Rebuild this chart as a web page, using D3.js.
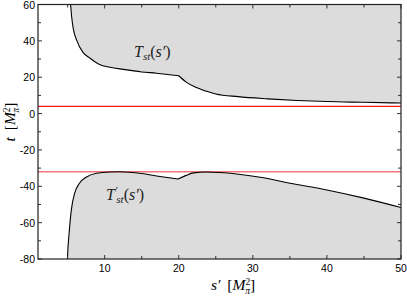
<!DOCTYPE html>
<html>
<head>
<meta charset="utf-8">
<script src="https://cdn.jsdelivr.net/npm/d3@7"></script>
<style>
  body { margin: 0; background: #fff; }
  svg { display: block; }
</style>
</head>
<body>
<svg id="chart" width="407" height="297"></svg>
<script>
// upper boundary T_st(s')
const upperS = [5.4, 5.55, 5.75, 6.2, 7.1, 8, 9.3, 10.7, 12.5, 15, 17, 20, 21, 22.3, 25, 28, 32, 36, 40, 45, 50];
const upperT = [60, 53, 47, 40.5, 33.5, 30.5, 27, 25.5, 24.3, 22.9, 22.2, 20.8, 17.3, 14.5, 10.8, 9.3, 8.1, 7.2, 6.6, 6.2, 5.8];
// lower boundary T'_st(s')
const lowerS = [4.97, 5.03, 5.2, 5.5, 5.95, 6.6, 7.5, 8.9, 10.7, 12, 13.4, 15, 17, 19.9, 21, 22, 23.7, 25.5, 27.8, 31, 35, 40, 45, 50];
const lowerT = [-80, -75, -65.8, -53, -43.8, -38.3, -35, -32.8, -32.1, -32.0, -32.3, -33, -34.3, -36, -34, -32.6, -32.1, -32.4, -33.2, -35, -38.3, -42, -46.5, -51.7];
const kinkS = [20, 19.9];
const redLines = [4, -32];
const xTicks = [10, 20, 30, 40, 50];
const yTicks = [60, 40, 20, 0, -20, -40, -60, -80];

const SVG = d3.select("#chart");
const M = { top: 4.5, right: 6, bottom: 38, left: 38 };
const W = 407 - M.left - M.right;
const H = 297 - M.top - M.bottom;

const x = d3.scaleLinear().domain([1, 50]).range([0, W]);
const y = d3.scaleLinear().domain([-80, 60]).range([H, 0]);

const g = SVG.append("g").attr("transform", `translate(${M.left},${M.top})`);

g.append("defs").append("clipPath").attr("id", "clip")
  .append("rect").attr("width", W).attr("height", H);

const plot = g.append("g").attr("clip-path", "url(#clip)");

const line = d3.line().x(d => x(d[0])).y(d => y(d[1])).curve(d3.curveMonotoneX);

// split at the kink so it stays sharp
function curvePath(S, T, kink) {
  const pts = S.map((s, i) => [s, T[i]]);
  const k = pts.findIndex(p => p[0] === kink);
  const a = line(pts.slice(0, k + 1));
  const b = line(pts.slice(k)).replace(/^M/, "L");
  return a + b;
}

const upPath = curvePath(upperS, upperT, kinkS[0]);
const loPath = curvePath(lowerS, lowerT, kinkS[1]);

plot.append("path")
  .attr("d", upPath + `L${x(50)},${y(60)}Z`)
  .attr("fill", "#dcdcdc");
plot.append("path")
  .attr("d", loPath + `L${x(50)},${y(-80)}Z`)
  .attr("fill", "#dcdcdc");

plot.selectAll(".red").data(redLines).join("line")
  .attr("x1", 0).attr("x2", W)
  .attr("y1", d => y(d)).attr("y2", d => y(d))
  .attr("stroke", (d, i) => i ? "#f07878" : "#ff1a1a")
  .attr("stroke-width", (d, i) => i ? 1.6 : 1.2);

plot.append("path").attr("d", upPath).attr("fill", "none").attr("stroke", "#000").attr("stroke-width", 1.1);
plot.append("path").attr("d", loPath).attr("fill", "none").attr("stroke", "#000").attr("stroke-width", 1.1);

// axes, ticks inside on all four sides
const tickFont = "'Liberation Sans', Arial, sans-serif";
const minorX = d3.range(5, 51, 5);
const minorY = d3.range(-80, 61, 10);

const ax = g.append("g").attr("stroke", "#333").attr("stroke-width", 1);
minorX.forEach(v => {
  const len = v % 10 === 0 ? 4 : 3;
  ax.append("line").attr("x1", x(v)).attr("x2", x(v)).attr("y1", H).attr("y2", H - len);
  ax.append("line").attr("x1", x(v)).attr("x2", x(v)).attr("y1", 0).attr("y2", len);
});
minorY.forEach(v => {
  const len = v % 20 === 0 ? 4 : 3;
  ax.append("line").attr("y1", y(v)).attr("y2", y(v)).attr("x1", 0).attr("x2", len);
  ax.append("line").attr("y1", y(v)).attr("y2", y(v)).attr("x1", W).attr("x2", W - len);
});

g.append("rect").attr("width", W).attr("height", H)
  .attr("fill", "none").attr("stroke", "#222").attr("stroke-width", 1.2);

g.selectAll(".xt").data(xTicks).join("text")
  .attr("x", d => x(d)).attr("y", H + 13)
  .attr("text-anchor", "middle")
  .style("font-family", tickFont).style("font-size", "10.5px")
  .text(d => d);

g.selectAll(".yt").data(yTicks).join("text")
  .attr("x", -3).attr("y", d => y(d) + 4)
  .attr("text-anchor", "end")
  .style("font-family", tickFont).style("font-size", "10.5px")
  .text(d => d);

const serif = "'Liberation Serif', 'DejaVu Serif', serif";

// axis titles: italic var, then [M^2_pi]
function axisTitle(t, name) {
  t.append("tspan").style("font-style", "italic").text(name);
  t.append("tspan").attr("dx", 7).text("[");
  t.append("tspan").style("font-style", "italic").text("M");
  t.append("tspan").attr("dy", -5).style("font-size", "9.5px").text("2");
  t.append("tspan").attr("dx", -5).attr("dy", 9).style("font-size", "9.5px").style("font-style", "italic").text("π");
  t.append("tspan").attr("dy", -4).text("]");
}

const xl = SVG.append("text")
  .attr("x", 233).attr("y", 290)
  .attr("text-anchor", "middle")
  .style("font-family", serif).style("font-size", "15.5px");
axisTitle(xl, "s′");

const yl = SVG.append("text")
  .attr("transform", "translate(15,122) rotate(-90)")
  .attr("text-anchor", "middle")
  .style("font-family", serif).style("font-size", "15.5px");
axisTitle(yl, "t");

// curve labels
const l1 = SVG.append("text").attr("x", 134).attr("y", 57)
  .style("font-family", serif).style("font-size", "16px").style("font-style", "italic").attr("fill", "#222");
l1.append("tspan").text("T");
l1.append("tspan").attr("dy", 3).style("font-size", "11px").text("st");
l1.append("tspan").attr("dy", -3).style("font-style", "normal").text("(");
l1.append("tspan").text("s′");
l1.append("tspan").style("font-style", "normal").text(")");

const l2 = SVG.append("text").attr("x", 106).attr("y", 200)
  .style("font-family", serif).style("font-size", "16px").style("font-style", "italic").attr("fill", "#222");
l2.append("tspan").text("T");
l2.append("tspan").attr("dy", -6).style("font-size", "11px").text("′");
l2.append("tspan").attr("dx", -1).attr("dy", 9).style("font-size", "11px").text("st");
l2.append("tspan").attr("dy", -3).style("font-style", "normal").text("(");
l2.append("tspan").text("s′");
l2.append("tspan").style("font-style", "normal").text(")");
</script>
</body>
</html>
